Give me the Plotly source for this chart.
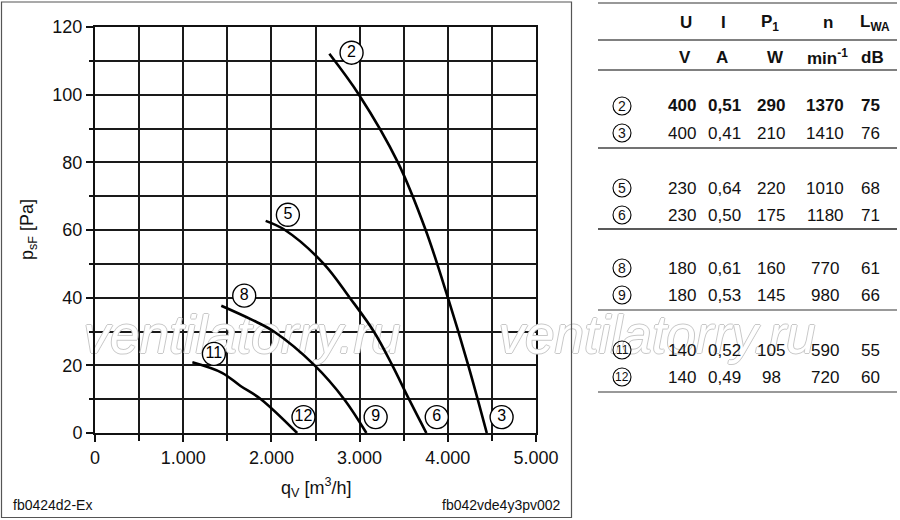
import plotly.graph_objects as go

# fan curves (qV in m3/h, psF in Pa)
q_2_3 = [2657, 2993, 3434, 3749, 4001, 4232, 4442]
p_2_3 = [112.1, 100, 80, 60, 40, 20, 0]
q_5_6 = [1935, 2154, 2594, 2888, 3161, 3371, 3560, 3757]
p_5_6 = [62.7, 60, 50, 40, 30, 20, 10, 0]
q_8_9 = [1432, 1776, 2028, 2490, 2825, 3077]
p_8_9 = [37.6, 33.5, 30, 20, 10, 0]
q_11_12 = [1104, 1440, 1650, 1881, 2292]
p_11_12 = [20.9, 17.8, 13.9, 10, 0]

# curve labels
label_text = ["2", "5", "8", "11", "12", "9", "6", "3"]
label_q = [2909, 2187, 1692, 1348, 2364, 3182, 3875, 4610]
label_p = [112.4, 64.5, 40.6, 23.4, 4.7, 4.7, 4.7, 4.7]

x_ticks = [0, 1000, 2000, 3000, 4000, 5000]
x_ticktext = ["0", "1.000", "2.000", "3.000", "4.000", "5.000"]
y_ticks = [0, 20, 40, 60, 80, 100, 120]

# table
col_head = ["U", "I", "P<sub>1</sub>", "n", "L<sub>WA</sub>"]
col_unit = ["V", "A", "W", "min<sup>-1</sup>", "dB"]
row_id = ["2", "3", "5", "6", "8", "9", "11", "12"]
U = [400, 400, 230, 230, 180, 180, 140, 140]
I = ["0,51", "0,41", "0,64", "0,50", "0,61", "0,53", "0,52", "0,49"]
P1 = [290, 210, 220, 175, 160, 145, 105, 98]
n = [1370, 1410, 1010, 1180, 770, 980, 590, 720]
LWA = [75, 76, 68, 71, 61, 66, 55, 60]

WATERMARK = "ventilatorry.ru"

W, H = 900, 520
FONT = "Liberation Sans, Arial, sans-serif"

# plot area in pixels
X0, X1, Y0, Y1 = 95, 536, 433, 27


def px(x):
    return x / W


def py(y):
    return 1 - y / H


def to_q(x):
    return (x - X0) / (X1 - X0) * 5000


def to_p(y):
    return (Y0 - y) / (Y0 - Y1) * 120


wm_shadow = ", ".join(f"{a}px {b}px 0 #c8c8c8" for a, b in [(1, 0), (-1, 0), (0, 1), (0, -1)])
wm_font = dict(family=FONT, size=53, color="white", style="italic", shadow=wm_shadow)

fig = go.Figure()

# watermark over the chart first so the curves sit on top of it
fig.add_trace(go.Scatter(
    x=[to_q(242)], y=[to_p(340)], mode="text", text=[WATERMARK],
    textposition="middle center", textfont=wm_font,
    cliponaxis=False, hoverinfo="skip", showlegend=False))

for q, p in [(q_2_3, p_2_3), (q_5_6, p_5_6), (q_8_9, p_8_9), (q_11_12, p_11_12)]:
    fig.add_trace(go.Scatter(x=q, y=p, mode="lines",
                             line=dict(color="black", width=2.6, shape="spline", smoothing=1),
                             hoverinfo="skip", showlegend=False))

fig.add_trace(go.Scatter(
    x=label_q, y=label_p, mode="markers+text", text=label_text,
    textposition="middle center",
    textfont=dict(family=FONT, size=16, color="black"),
    marker=dict(symbol="circle", size=23, color="white", line=dict(color="black", width=1.4)),
    cliponaxis=False, hoverinfo="skip", showlegend=False))

# second watermark on a hidden full-page overlay, so table circles and text stay on top
fig.add_trace(go.Scatter(
    x=[657], y=[340], xaxis="x2", yaxis="y2", mode="text", text=[WATERMARK],
    textposition="middle center", textfont=wm_font,
    cliponaxis=False, hoverinfo="skip", showlegend=False))

ann = []
shapes = []


def note(x, y, text, size, xanchor="center", **kw):
    ann.append(dict(x=px(x), y=py(y), xref="paper", yref="paper", text=text,
                    showarrow=False, xanchor=xanchor, yanchor="middle",
                    font=dict(family=FONT, size=size, color="#111"), **kw))


# axis titles and footers
note(316, 487, "q<sub>V</sub> [m<sup>3</sup>/h]", 18)
note(28, 230, "p<sub>sF</sub> [Pa]", 18, textangle=-90)
note(11, 505, "fb0424d2-Ex", 14, xanchor="left")
note(563, 505, "fb042vde4y3pv002", 14, xanchor="right")

# table text
head_x = [686, 723, 770, 828, 875]
unit_x = [685, 722, 775, 827, 872]
col_x = [682, 724, 771, 825, 870]
row_y = [106, 133, 188, 215, 268, 295, 350, 377]
for hx, ux, h, u in zip(head_x, unit_x, col_head, col_unit):
    note(hx, 23, f"<b>{h}</b>", 17)
    note(ux, 57, f"<b>{u}</b>", 17)
for i, ry in enumerate(row_y):
    vals = [U[i], I[i], P1[i], n[i], LWA[i]]
    for cx, v in zip(col_x, vals):
        note(cx, ry, f"<b>{v}</b>" if i == 0 else str(v), 17)
    note(622, ry, row_id[i], 12 if len(row_id[i]) > 1 else 14)
    shapes.append(dict(type="circle", xref="paper", yref="paper",
                       x0=px(613), x1=px(631), y0=py(ry + 9), y1=py(ry - 9),
                       line=dict(color="black", width=1.1)))

# table rules
for ly, col, wd in [(3, "#333", 1.2), (40, "#808080", 2), (70, "#808080", 2),
                    (148, "#444", 1.5), (229, "#222", 1.5), (310, "#777", 1.5), (392, "#777", 1.5)]:
    shapes.append(dict(type="line", xref="paper", yref="paper", x0=px(598), x1=px(897),
                       y0=py(ly), y1=py(ly), line=dict(color=col, width=wd)))

# frame around chart
shapes.append(dict(type="rect", xref="paper", yref="paper", x0=px(1.5), x1=px(571.5),
                   y0=py(2), y1=py(517.5), line=dict(color="#555", width=1.2)))

axis_common = dict(showline=True, linecolor="#111", linewidth=2, mirror=True,
                   showgrid=True, gridcolor="#1a1a1a", gridwidth=1.7, zeroline=False,
                   ticks="outside", tickcolor="#111", tickwidth=1.5, automargin=False,
                   tickfont=dict(family=FONT, size=18, color="#111"), fixedrange=True)

fig.update_layout(
    width=W, height=H,
    margin=dict(l=0, r=0, t=0, b=0, autoexpand=False),
    paper_bgcolor="white", plot_bgcolor="rgba(0,0,0,0)",
    xaxis=dict(domain=[px(X0), px(X1)], range=[0, 5000],
               tickmode="array", tickvals=x_ticks, ticktext=x_ticktext, ticklen=7,
               minor=dict(tickmode="linear", tick0=0, dtick=500, ticks="outside", ticklen=6,
                          tickcolor="#111", tickwidth=1.5, showgrid=True,
                          gridcolor="#1a1a1a", gridwidth=1.7),
               **axis_common),
    yaxis=dict(domain=[py(Y0), py(Y1)], range=[0, 120],
               tickmode="array", tickvals=y_ticks, ticklen=7,
               minor=dict(tickmode="linear", tick0=0, dtick=10, ticks="outside", ticklen=4,
                          tickcolor="#111", tickwidth=1.5, showgrid=True,
                          gridcolor="#1a1a1a", gridwidth=1.7),
               **axis_common),
    xaxis2=dict(domain=[0, 1], range=[0, W], visible=False, fixedrange=True, anchor="y2"),
    yaxis2=dict(domain=[0, 1], range=[H, 0], visible=False, fixedrange=True, anchor="x2"),
    annotations=ann,
    shapes=shapes,
)

# drop the default 8px page margin so the figure sits at the window corner
fig.write_html("out.html", config={"displayModeBar": False},
               post_script="document.body.style.margin = '0';")
